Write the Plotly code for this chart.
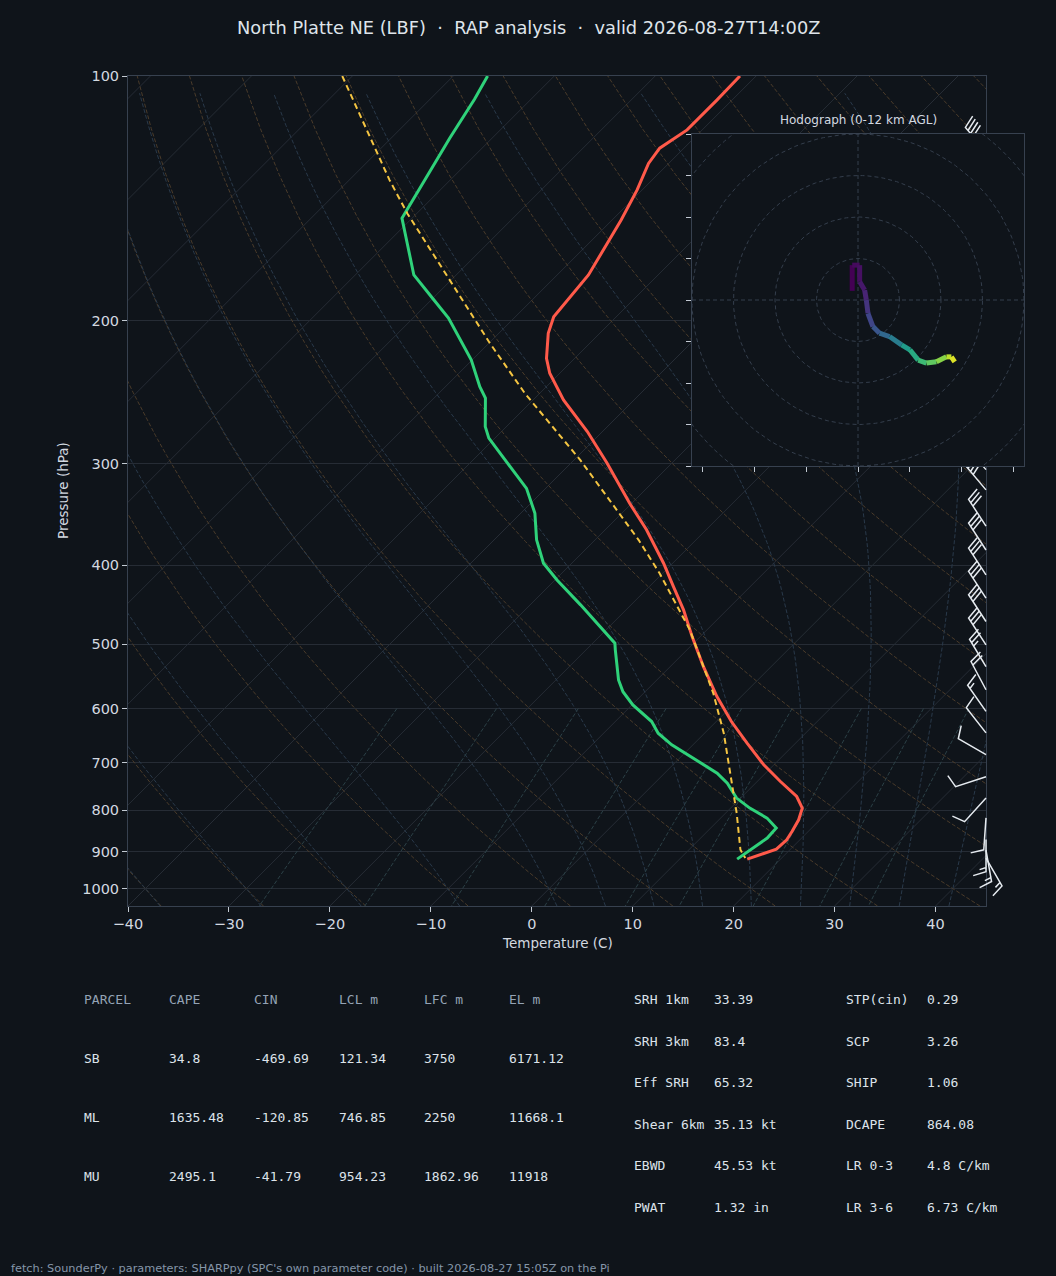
import numpy as np
import plotly.graph_objects as go
from plotly.colors import sample_colorscale

W, H = 1056, 1276
BG = '#0f141a'
FRAME = '#37414f'
GRID = '#262c35'
TXT = '#d3d9e0'
SANS = 'DejaVu Sans'
MONO = 'DejaVu Sans Mono'

TITLE = 'North Platte NE (LBF)\u00a0\u00a0·\u00a0\u00a0RAP analysis\u00a0\u00a0·\u00a0\u00a0valid 2026-08-27T14:00Z'
FOOTER = "fetch: SounderPy · parameters: SHARPpy (SPC's own parameter code) · built 2026-08-27 15:05Z on the Pi"

# --- sounding (hPa, degC) ---
P_T = [100, 107, 116.5, 122.7, 128.1, 138.1, 150.4, 163.7, 175.7, 197.8, 207.3, 222.5,
       232.1, 250.3, 273.8, 299.5, 314.0, 335.5, 361.7, 397.6, 424.9, 453.8, 489.5,
       533.0, 580.2, 622.6, 662.0, 703.9, 737.9, 770.0, 795.7, 822.5, 850.2, 870.4,
       893.8, 919.4]
T_C = [-61.6, -61.5, -61.5, -62.4, -62.0, -60.5, -59.1, -57.9, -56.9, -56.2, -55.1, -52.8,
       -51.0, -47.0, -41.5, -36.4, -33.8, -30.2, -25.9, -20.9, -17.6, -14.3, -10.8,
       -6.7, -2.4, 1.5, 5.2, 9.0, 12.3, 15.4, 17.1, 17.9, 18.4, 18.7, 18.6, 16.7]

P_TD = [100, 106.8, 119.2, 132.4, 146.9, 149.6, 160.6, 175.7, 186.6, 198.5, 223.5,
        241.1, 249.1, 270.0, 279.0, 321.6, 345.1, 372.1, 397.6, 416.9, 447.4, 466.9,
        498.7, 508.2, 553.4, 572.1, 594.1, 622.6, 643.5, 665.1, 690.7, 720.6, 741.3,
        773.4, 795.7, 818.5, 842.0, 866.2, 919.4]
TD_C = [-86.6, -85.6, -84.2, -82.7, -81.3, -81.0, -78.0, -74.2, -70.4, -66.5, -60.1,
        -56.6, -54.9, -52.1, -50.6, -41.9, -38.6, -35.8, -32.8, -29.8, -25.0, -22.2,
        -17.8, -17.1, -13.8, -12.2, -9.9, -6.4, -4.6, -2.1, 1.4, 5.2, 7.2,
        9.6, 11.9, 14.6, 16.5, 16.6, 15.7]

P_PCL = [100, 134.3, 147.7, 213.2, 246.0, 296.7, 372.1, 409.1, 480.2, 574.6, 643.5,
         734.4, 807.1, 895.4, 916.6]
PCL_C = [-101.0, -86.0, -80.9, -59.9, -51.4, -39.4, -25.7, -20.3, -11.7, -3.1, 1.9,
         7.3, 11.1, 15.1, 16.4]

# --- winds: pressure (hPa), direction (deg), speed (kt) ---
P_WIND = [124, 132, 140, 150, 160, 171, 182, 194, 207, 221, 236, 252, 269, 287, 305,
          323, 358, 383, 411, 439, 469, 501, 533, 569, 605, 643, 684, 728, 773, 818,
          870, 896, 917]
WDIR = [320, 318, 316, 315, 314, 313, 312, 312, 313, 314, 315, 316, 317, 318, 319,
        320, 327, 327, 327, 327, 327, 327, 329, 332, 325, 322, 300, 252, 222, 184,
        180, 170, 150]
WSPD = [40, 40, 40, 40, 45, 45, 45, 40, 40, 40, 40, 40, 40, 40, 40,
        40, 30, 30, 30, 30, 30, 30, 25, 20, 15, 10, 10, 10, 10, 10,
        15, 15, 15]

# --- hodograph (kt) and height (km AGL) ---
HODO_U = [-1.4, -1.4, 0.4, 0.4, 1.6, 2.0, 2.4, 3.6, 5.2, 7.6, 10.5, 12.5, 14.5, 16.5,
          18.9, 21.3, 22.5, 23.3]
HODO_V = [2.2, 8.4, 8.4, 4.4, 2.4, 0.0, -3.2, -6.4, -8.0, -8.8, -10.8, -12.0, -14.5,
          -15.2, -14.9, -13.7, -13.7, -14.9]
HODO_Z = [0.0, 0.3, 0.5, 0.8, 1.2, 1.8, 2.5, 3.2, 4.0, 5.0, 6.5, 7.3, 8.2, 9.0, 9.8,
          10.8, 11.4, 12.0]

# --- parameter tables ---
PARCEL_HDR = ['PARCEL', 'CAPE', 'CIN', 'LCL m', 'LFC m', 'EL m']
PARCEL_NAME = ['SB', 'ML', 'MU']
CAPE = [34.8, 1635.48, 2495.1]
CIN = [-469.69, -120.85, -41.79]
LCL_M = [121.34, 746.85, 954.23]
LFC_M = [3750, 2250, 1862.96]
EL_M = [6171.12, 11668.1, 11918]

IDX_A_NAME = ['SRH 1km', 'SRH 3km', 'Eff SRH', 'Shear 6km', 'EBWD', 'PWAT']
IDX_A_VAL = ['33.39', '83.4', '65.32', '35.13 kt', '45.53 kt', '1.32 in']
IDX_B_NAME = ['STP(cin)', 'SCP', 'SHIP', 'DCAPE', 'LR 0-3', 'LR 3-6']
IDX_B_VAL = ['0.29', '3.26', '1.06', '864.08', '4.8 C/km', '6.73 C/km']

# --- geometry of the skew-T box (pixels) ---
L_PX, R_PX, T_PX, B_PX = 128, 986, 76, 906
XMIN, XMAX = -40, 45
PBOT, PTOP = 1050.0, 100.0
DEG_PX = (R_PX - L_PX) / (XMAX - XMIN)
DEC_PX = (B_PX - T_PX) / np.log10(PBOT / PTOP)
K = DEC_PX / DEG_PX          # 45 degree skew
HL, HR, HT, HB = 692, 1024, 134, 466
BARB_LEN = 32


def skew(t, p):
    return np.asarray(t, float) + K * np.log10(PBOT / np.asarray(p, float))


def joined(lines):
    xs, ys = [], []
    for x, y in lines:
        xs += list(x) + [None]
        ys += list(y) + [None]
    return xs, ys


# thermodynamic background lines
RD, CP, LV, EPS = 287.04749, 1004.6662, 2.50084e6, 0.6219569


def moist_dtdp(p, t):
    es = 6.112 * np.exp(17.67 * (t - 273.15) / (t - 29.65))
    rs = EPS * es / (p - es)
    return (RD * t + LV * rs) / (CP + LV * LV * rs * EPS / (RD * t * t)) / p


def moist_lines(t0):
    t0 = np.asarray(t0, float) + 273.15
    out = []
    for p_path in (np.linspace(1000, 100, 361), np.linspace(1000, PBOT, 11)):
        t = t0.copy()
        rec = [t.copy()]
        for a, b in zip(p_path[:-1], p_path[1:]):
            h = b - a
            k1 = moist_dtdp(a, t)
            k2 = moist_dtdp(a + h / 2, t + h / 2 * k1)
            k3 = moist_dtdp(a + h / 2, t + h / 2 * k2)
            k4 = moist_dtdp(b, t + h * k3)
            t = t + h / 6 * (k1 + 2 * k2 + 2 * k3 + k4)
            rec.append(t.copy())
        out.append((p_path, np.array(rec)))
    (pu, tu), (pd, td) = out
    p_all = np.concatenate([pd[::-1], pu[1:]])
    t_all = np.concatenate([td[::-1], tu[1:]]) - 273.15
    return p_all[::4], t_all[::4]


iso_lines = []
for t in range(-120, 41, 10):
    iso_lines.append((skew([t, t], [PBOT, PTOP]), [PBOT, PTOP]))

p_lin = np.linspace(PBOT, PTOP, 60)
dry_lines = []
for t0 in range(-40, 246, 10):
    t = (t0 + 273.15) * (p_lin / 1000.0) ** (RD / CP) - 273.15
    dry_lines.append((skew(t, p_lin), p_lin))

moist_t0 = list(range(-40, 0, 10)) + list(range(0, 46, 5))
pm, tm = moist_lines(moist_t0)
wet_lines = [(skew(tm[:, i], pm), pm) for i in range(len(moist_t0))]

p_mix = np.linspace(600, PBOT, 40)
mix_lines = []
for w in [0.0004, 0.001, 0.002, 0.004, 0.007, 0.01, 0.016, 0.024, 0.032]:
    e = p_mix * w / (EPS + w)
    lg = np.log(e / 6.112)
    td = 243.5 * lg / (17.67 - lg)
    mix_lines.append((skew(td, p_mix), p_mix))

fig = go.Figure()


def bg_trace(lines, color, dash):
    xs, ys = joined(lines)
    fig.add_trace(go.Scatter(x=xs, y=ys, mode='lines', hoverinfo='skip',
                             line=dict(color=color, width=1, dash=dash)))


bg_trace(iso_lines, GRID, 'solid')
bg_trace(dry_lines, '#4a3b2a', '4px,2px')
bg_trace(wet_lines, '#29394a', '4px,2px')
bg_trace(mix_lines, '#2b4046', '4px,2px')

fig.add_trace(go.Scatter(x=skew(T_C, P_T), y=P_T, mode='lines',
                         line=dict(color='#ff5a4a', width=3)))
fig.add_trace(go.Scatter(x=skew(TD_C, P_TD), y=P_TD, mode='lines',
                         line=dict(color='#2fd27a', width=3)))
fig.add_trace(go.Scatter(x=skew(PCL_C, P_PCL), y=P_PCL, mode='lines',
                         line=dict(color='#f5c542', width=2, dash='6px,4px')))


# wind barbs (matplotlib geometry), on a full-page overlay axis with same scale
def barb_points(spd, wdir, length=BARB_LEN):
    spacing, height, width = 0.125 * length, 0.4 * length, 0.25 * length
    n_flag, rest = divmod(int(spd), 50)
    n_full, rest = divmod(rest, 10)
    pts = [(0.0, 0.0)]
    off = length
    for _ in range(n_flag):
        if off != length:
            off += spacing / 2
        pts += [(0, off), (height, off - width / 2), (0, off - width)]
        off -= width + spacing
    for _ in range(n_full):
        pts += [(0, off), (height, off + width / 2), (0, off)]
        off -= spacing
    if rest >= 5:
        if off == length:
            pts.append((0, off))
            off -= 1.5 * spacing
        pts += [(0, off), (height / 2, off + width / 4), (0, off)]
    rad = np.radians(wdir)
    u, v = -spd * np.sin(rad), -spd * np.cos(rad)
    th = np.arctan2(v, u) + np.pi / 2
    c, s = np.cos(th), np.sin(th)
    return [(x * c - y * s, x * s + y * c) for x, y in pts]


bx, by = [], []
for p, d, s in zip(P_WIND, WDIR, WSPD):
    for ox, oy in barb_points(s, d):
        bx.append(XMAX + ox / DEG_PX)
        by.append(p * 10 ** (-oy / DEC_PX))
    bx.append(None)
    by.append(None)
fig.add_trace(go.Scatter(x=bx, y=by, mode='lines', xaxis='x2', yaxis='y2',
                         line=dict(color='#e6ebf0', width=1.5)))

# hodograph inset (opaque square drawn first so it hides what lies beneath)
fig.add_trace(go.Scatter(x=[-45, 45, 45, -45, -45], y=[-45, -45, 45, 45, -45],
                         fill='toself', fillcolor=BG, mode='lines',
                         line=dict(width=0, color=BG), xaxis='x3', yaxis='y3'))
theta = np.linspace(0, 2 * np.pi, 181)
rx, ry = joined([(r * np.cos(theta), r * np.sin(theta)) for r in range(10, 61, 10)])
fig.add_trace(go.Scatter(x=rx, y=ry, mode='lines', xaxis='x3', yaxis='y3',
                         line=dict(color='#343e4c', width=1, dash='4px,3px')))
fig.add_trace(go.Scatter(x=[-40, 40, None, 0, 0], y=[0, 0, None, -40, 40], mode='lines',
                         xaxis='x3', yaxis='y3',
                         line=dict(color='#343e4c', width=1, dash='4px,3px')))
zc = sample_colorscale('Viridis', [z / max(HODO_Z) for z in HODO_Z])
for i in range(len(HODO_U) - 1):
    fig.add_trace(go.Scatter(x=HODO_U[i:i + 2], y=HODO_V[i:i + 2], mode='lines',
                             xaxis='x3', yaxis='y3',
                             line=dict(color=zc[i], width=5)))


def ann(text, x, y, size, color=TXT, family=SANS, xanchor='left', **kw):
    if xanchor == 'left':
        x -= 2   # annotation box padding
    return dict(text=text, x=x / W, y=1 - y / H, xref='paper', yref='paper',
                showarrow=False, xanchor=xanchor, yanchor='middle',
                font=dict(size=size, color=color, family=family), **kw)


anns = [
    ann(TITLE, 528, 27, 17.8, '#dfe4ea', xanchor='center'),
    ann('Temperature (C)', 557, 943, 13.5, xanchor='center'),
    ann('Pressure (hPa)', 63, 491, 13.5, xanchor='center', textangle=-90),
    ann('Hodograph (0-12 km AGL)', 858, 120, 12, xanchor='center'),
    ann(FOOTER, 11, 1268, 11.3, '#8596a9'),
]

col_x = [84, 169, 254, 339, 424, 509]
row_y = [999, 1058, 1117, 1176]
for cx, h in zip(col_x, PARCEL_HDR):
    anns.append(ann(h, cx, row_y[0], 13, '#94a3b5', MONO))
for i, name in enumerate(PARCEL_NAME):
    vals = [name, CAPE[i], CIN[i], LCL_M[i], LFC_M[i], EL_M[i]]
    for cx, v in zip(col_x, vals):
        anns.append(ann(str(v), cx, row_y[i + 1], 13, '#dde3ea', MONO))

idx_y = [999, 1041, 1082, 1124, 1165, 1207]
for i, y in enumerate(idx_y):
    anns.append(ann(IDX_A_NAME[i], 634, y, 13, '#dde3ea', MONO))
    anns.append(ann(IDX_A_VAL[i], 714, y, 13, '#dde3ea', MONO))
    anns.append(ann(IDX_B_NAME[i], 846, y, 13, '#dde3ea', MONO))
    anns.append(ann(IDX_B_VAL[i], 927, y, 13, '#dde3ea', MONO))

tick_font = dict(family=SANS, size=14.5, color=TXT)
xt = list(range(-40, 41, 10))
pt = list(range(100, 1001, 100))
fig.update_layout(
    template='none',
    width=W, height=H,
    margin=dict(l=0, r=0, t=0, b=0),
    paper_bgcolor=BG, plot_bgcolor='rgba(0,0,0,0)',
    showlegend=False,
    annotations=anns,
    xaxis=dict(domain=[L_PX / W, R_PX / W], range=[XMIN, XMAX], anchor='y',
               tickvals=xt, ticktext=[str(v).replace('-', '\u2212') for v in xt],
               ticks='outside', ticklen=5, tickcolor='#c3cad3', tickfont=tick_font,
               showgrid=False, zeroline=False, showline=True, mirror=True,
               linecolor=FRAME, automargin=False, fixedrange=True),
    yaxis=dict(domain=[1 - B_PX / H, 1 - T_PX / H], type='log', anchor='x',
               range=[np.log10(PBOT), np.log10(PTOP)],
               tickvals=pt, ticktext=[str(v) for v in pt],
               ticks='outside', ticklen=5, tickcolor='#c3cad3', tickfont=tick_font,
               showgrid=True, gridcolor=GRID, gridwidth=1, zeroline=False,
               showline=True, mirror=True, linecolor=FRAME, automargin=False,
               fixedrange=True),
    xaxis2=dict(domain=[0, 1], anchor='y2', visible=False, showgrid=False, zeroline=False,
                range=[XMIN - L_PX / DEG_PX, XMAX + (W - R_PX) / DEG_PX], fixedrange=True),
    yaxis2=dict(domain=[0, 1], anchor='x2', type='log', visible=False, showgrid=False,
                zeroline=False, fixedrange=True,
                range=[np.log10(PBOT) + (H - B_PX) / DEC_PX,
                       np.log10(PTOP) - T_PX / DEC_PX]),
    xaxis3=dict(domain=[HL / W, HR / W], anchor='y3', range=[-40, 40],
                tickvals=[-37.5, -25, -12.5, 0, 12.5, 25, 37.5], showticklabels=False,
                ticks='outside', ticklen=5, tickcolor='#c3cad3',
                showgrid=False, zeroline=False, showline=True, mirror=True,
                linecolor=FRAME, automargin=False, fixedrange=True),
    yaxis3=dict(domain=[1 - HB / H, 1 - HT / H], anchor='x3', range=[-40, 40],
                tickvals=list(range(-40, 41, 10)), showticklabels=False,
                ticks='outside', ticklen=5, tickcolor='#c3cad3',
                showgrid=False, zeroline=False, showline=True, mirror=True,
                linecolor=FRAME, automargin=False, fixedrange=True),
)

fig.write_html("out.html", config={'displayModeBar': False},
               post_script="document.body.style.margin='0px';")
